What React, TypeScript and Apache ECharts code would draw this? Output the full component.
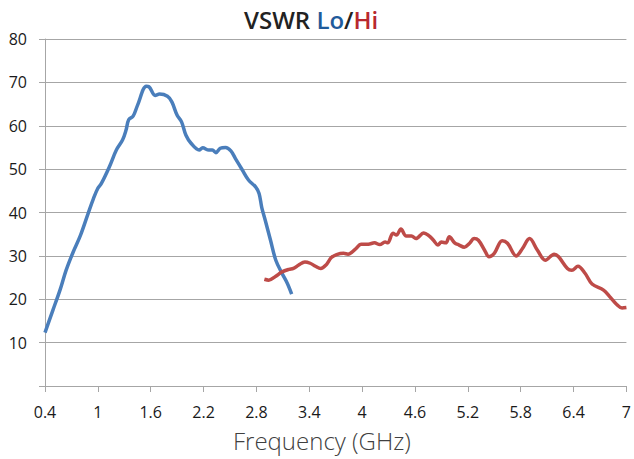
import React, { useEffect, useRef } from "react";
import * as echarts from "echarts";

const loFreq = [0.4, 0.49, 0.57, 0.64, 0.72, 0.8, 0.89, 0.95, 1.0, 1.04, 1.13, 1.21, 1.28, 1.32, 1.35, 1.4, 1.45, 1.55, 1.58, 1.65, 1.7, 1.79, 1.84, 1.9, 1.95, 2.0, 2.06, 2.15, 2.19, 2.26, 2.3, 2.34, 2.39, 2.45, 2.51, 2.56, 2.64, 2.71, 2.79, 2.83, 2.86, 2.9, 2.96, 3.02, 3.09, 3.15, 3.2];
const loVswr = [12.3, 17.5, 22.1, 26.7, 30.9, 34.6, 39.8, 43.2, 45.6, 46.7, 50.5, 54.4, 56.7, 59, 61.4, 62.2, 64.7, 69.1, 69, 67, 67.3, 66.8, 65.5, 62.4, 60.9, 57.8, 55.9, 54.4, 54.9, 54.4, 54.4, 53.8, 54.8, 55, 54.2, 52.5, 49.8, 47.5, 45.9, 44.4, 41.2, 38.2, 33.6, 29, 26, 23.7, 21.2];

const hiFreq = [2.89, 2.94, 3.02, 3.09, 3.17, 3.22, 3.28, 3.35, 3.41, 3.47, 3.53, 3.59, 3.65, 3.71, 3.79, 3.84, 3.92, 3.99, 4.07, 4.14, 4.2, 4.26, 4.29, 4.35, 4.39, 4.44, 4.5, 4.56, 4.61, 4.7, 4.76, 4.81, 4.86, 4.9, 4.95, 4.99, 5.05, 5.1, 5.16, 5.22, 5.27, 5.32, 5.39, 5.44, 5.5, 5.59, 5.65, 5.75, 5.82, 5.9, 5.99, 6.08, 6.18, 6.23, 6.33, 6.38, 6.45, 6.53, 6.61, 6.74, 6.81, 6.89, 6.95, 7.0];
const hiVswr = [24.6, 24.4, 25.3, 26.3, 26.9, 27.1, 27.9, 28.6, 28.3, 27.6, 27.1, 27.9, 29.6, 30.3, 30.6, 30.4, 31.5, 32.7, 32.7, 33, 32.6, 33.2, 33, 35.2, 34.8, 36.2, 34.6, 34.6, 34, 35.3, 34.6, 33.6, 32.5, 33.2, 33, 34.4, 33, 32.5, 32, 32.9, 34, 33.6, 31.3, 29.8, 30.6, 33.5, 32.9, 30, 31.7, 34, 31.3, 29, 30.4, 29.8, 27.1, 26.7, 27.6, 26, 23.5, 22.1, 20.6, 18.8, 18, 18.1];

const xTicks = [0.4, 1, 1.6, 2.2, 2.8, 3.4, 4, 4.6, 5.2, 5.8, 6.4, 7];
const yTicks = [0, 10, 20, 30, 40, 50, 60, 70, 80];

const titleParts = { main: "VSWR ", lo: "Lo", sep: "/", hi: "Hi" };
const xAxisTitle = "Frequency (GHz)";

const FONT = "'Open Sans', 'Noto Sans', sans-serif";
const GRID_COLOR = "#a6a6a6";

export default function App() {
  const ref = useRef<HTMLDivElement>(null);
  useEffect(() => {
    document.body.style.margin = "0";
    if (!ref.current) return;
    const chart = echarts.init(ref.current, null, { renderer: "svg" });
    const pairs = (xs: number[], ys: number[]) => xs.map((x, i) => [x, ys[i]]);
    chart.setOption({
      animation: false,
      backgroundColor: "#ffffff",
      title: {
        text: `{a|${titleParts.main}}{b|${titleParts.lo}}{a|${titleParts.sep}}{c|${titleParts.hi}}`,
        left: 239,
        top: 2,
        textStyle: {
          rich: {
            a: { fontFamily: FONT, fontSize: 24, fontWeight: 600, color: "#222222" },
            b: { fontFamily: FONT, fontSize: 24, fontWeight: 600, color: "#1f5b9b" },
            c: { fontFamily: FONT, fontSize: 24, fontWeight: 600, color: "#b8282e" },
          },
        },
      },
      grid: { left: 45, right: 4, top: 39, bottom: 73 },
      xAxis: {
        type: "value",
        min: xTicks[0],
        max: xTicks[xTicks.length - 1],
        axisLine: { show: true, onZero: false, lineStyle: { color: GRID_COLOR, width: 1 } },
        axisTick: { show: true, length: 6, customValues: xTicks, lineStyle: { color: GRID_COLOR } },
        axisLabel: {
          customValues: xTicks,
          margin: 18,
          fontFamily: FONT,
          fontSize: 16,
          color: "#1a1a1a",
          formatter: (v: number) => String(Math.round(v * 10) / 10),
        },
        splitLine: { show: false },
      },
      yAxis: {
        type: "value",
        min: yTicks[0],
        max: yTicks[yTicks.length - 1],
        interval: 10,
        axisLine: { show: true, lineStyle: { color: GRID_COLOR, width: 1 } },
        axisTick: { show: true, length: 6, lineStyle: { color: GRID_COLOR } },
        axisLabel: {
          margin: 18,
          fontFamily: FONT,
          fontSize: 16,
          color: "#1a1a1a",
          formatter: (v: number) => (v === 0 ? "" : String(v)),
        },
        splitLine: { show: true, lineStyle: { color: GRID_COLOR, width: 1 } },
      },
      graphic: [
        {
          type: "text",
          left: 233,
          top: 428,
          style: {
            text: xAxisTitle,
            fontFamily: FONT,
            fontSize: 24,
            fontWeight: 300,
            fill: "#404040",
          },
        },
      ],
      series: [
        {
          name: "Lo",
          type: "line",
          data: pairs(loFreq, loVswr),
          smooth: 0.35,
          showSymbol: false,
          lineStyle: { color: "#4a7ebb", width: 3.5 },
          itemStyle: { color: "#4a7ebb" },
        },
        {
          name: "Hi",
          type: "line",
          data: pairs(hiFreq, hiVswr),
          smooth: 0.35,
          showSymbol: false,
          lineStyle: { color: "#be4b48", width: 3.5 },
          itemStyle: { color: "#be4b48" },
        },
      ],
    });
    return () => chart.dispose();
  }, []);
  return <div ref={ref} style={{ width: 634, height: 459 }} />;
}
